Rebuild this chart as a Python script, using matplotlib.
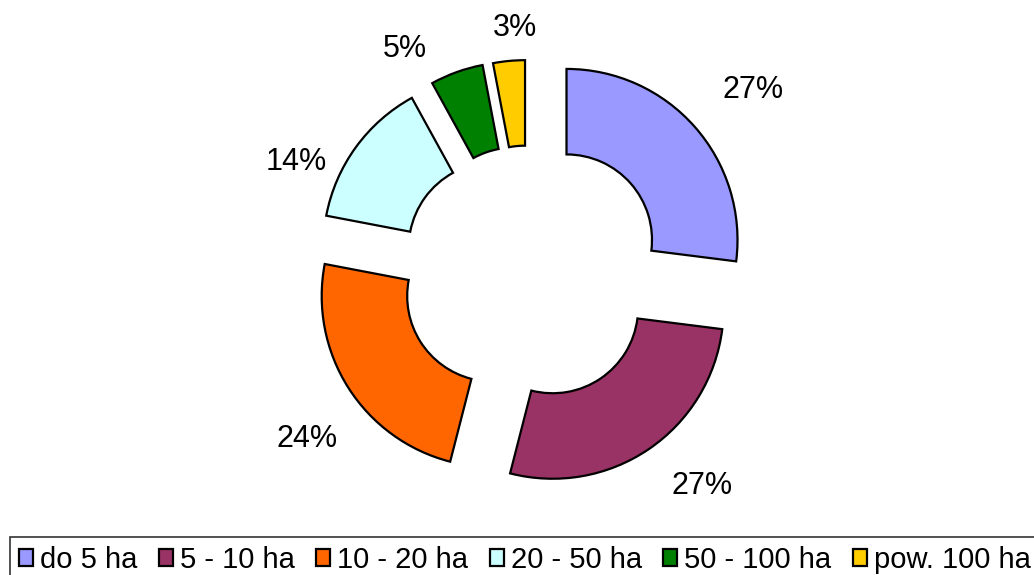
import numpy as np
import matplotlib
matplotlib.use("Agg")
import matplotlib.pyplot as plt

categories = ["do 5 ha", "5 - 10 ha", "10 - 20 ha", "20 - 50 ha", "50 - 100 ha", "pow. 100 ha"]
values = [27, 27, 24, 14, 5, 3]
colors = ["#9999FF", "#993366", "#FF6600", "#CCFFFF", "#008000", "#FFCC00"]

# layout (pixels)
explode = [50, 42, 43, 43, 42.5, 42]
label_shift_deg = [-2.1, 4.9, 4.3, 10.5, 9.2, -2.2]
label_radius = [289, 275, 277, 258, 256, 245]

plt.rcParams['font.family'] = ['Liberation Sans', 'DejaVu Sans']

W, H = 1034, 575
fig = plt.figure(figsize=(W / 100, H / 100), dpi=100)
ax = fig.add_axes([0, 0, 1, 1])

R = 171
ring = 85.5
center = (529, H - 273)

wedges, _ = ax.pie(values, colors=colors, startangle=90, counterclock=False,
                   radius=R, center=center, explode=explode,
                   wedgeprops=dict(width=ring, edgecolor='black', linewidth=1.6),
                   frame=True)
ax.set_xlim(0, W)
ax.set_ylim(0, H)
ax.set_aspect('equal')
ax.axis('off')

for w, v, sh, lr in zip(wedges, values, label_shift_deg, label_radius):
    th = np.deg2rad((w.theta1 + w.theta2) / 2 + sh)
    ax.text(center[0] + lr * np.cos(th), center[1] + lr * np.sin(th), f"{v}%",
            fontsize=22, ha='center', va='center')

leg = fig.legend(wedges, categories, loc='upper left',
                 bbox_to_anchor=(10 / W, 1 - 537 / H), bbox_transform=fig.transFigure,
                 ncol=6, fontsize=21, frameon=True, fancybox=False, shadow=False,
                 edgecolor='black', borderaxespad=0, borderpad=0.3,
                 handlelength=0.48, handleheight=0.5, handletextpad=0.24,
                 columnspacing=0.74)
leg.get_frame().set_linewidth(1.2)
for h in leg.legend_handles:
    h.set_linewidth(1.6)

fig.savefig("out.png", dpi=100)
